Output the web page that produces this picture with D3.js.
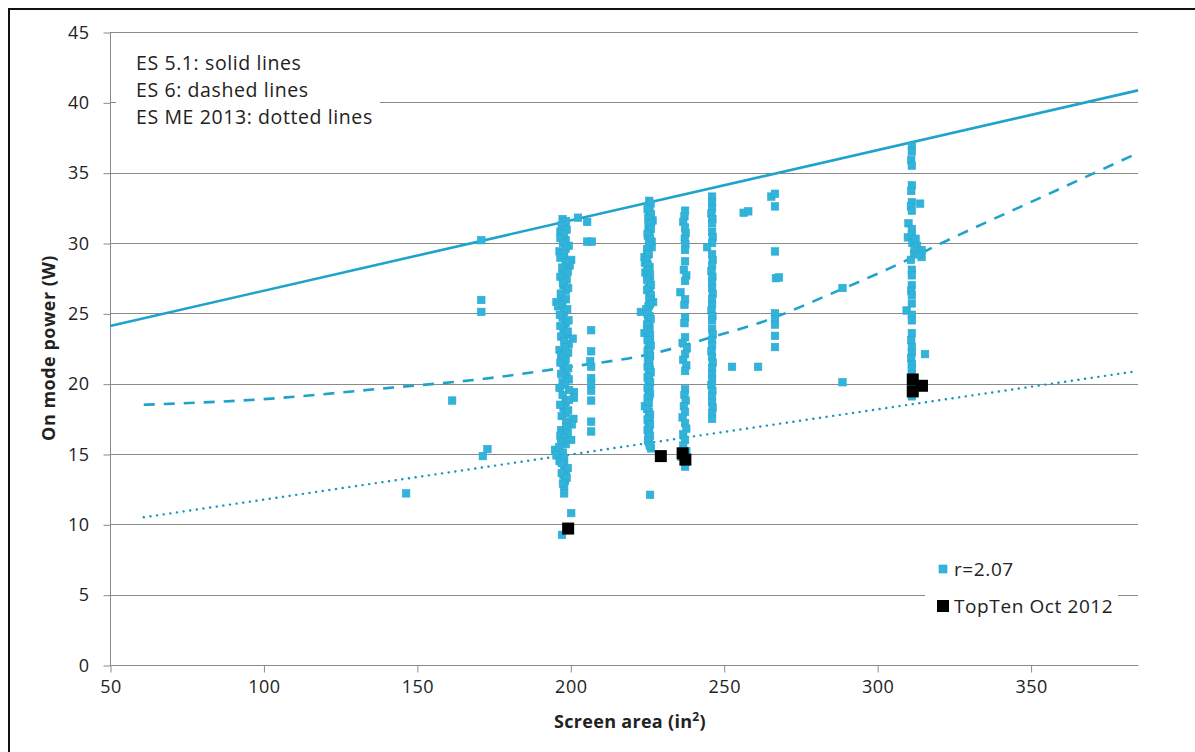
<!DOCTYPE html>
<html>
<head>
<meta charset="utf-8">
<script src="https://cdn.jsdelivr.net/npm/d3@7"></script>
<style>
  html, body { margin: 0; padding: 0; background: #fff; }
  svg { display: block; }
  text { font-family: "Open Sans", "Noto Sans", sans-serif; fill: #222; }
</style>
</head>
<body>
<svg id="chart" width="1195" height="752"></svg>
<script>
// ---------- data ----------
const xTicks = [50, 100, 150, 200, 250, 300, 350];
const yTicks = [0, 5, 10, 15, 20, 25, 30, 35, 40, 45];

// ES 5.1 limit (solid)
const es51Area = [50, 385];
const es51Power = [24.1, 40.85];
// ES 6 limit (dashed)
const es6Area = [61, 100, 141, 170, 200, 226, 246, 264, 284, 304, 324, 354, 384];
const es6Power = [18.5, 18.9, 19.7, 20.3, 21.2, 22.1, 23.3, 24.5, 26.3, 28.2, 30.3, 33.3, 36.3];
// ES ME 2013 limit (dotted)
const esmeArea = [61, 385];
const esmePower = [10.5, 20.9];

// r=2.07 models [screen area, on mode power]
const modelsR207 = [
  // isolated left
  [146.5,12.2],[161.5,18.8],[171,30.2],[171,25.95],[171,25.1],[173,15.35],[171.5,14.85],
  // column ~198
  [197.5,31.7],[198.2,31.4],[197.8,31.1],[196.8,30.8],[197.2,30.5],[198.5,30.2],[199.5,29.8],[196.5,29.4],
  [198,29.1],[200.3,28.8],[199.8,28.4],[198,28.1],[197.5,27.8],[198.8,27.4],[197.8,27.0],[198.5,26.6],
  [197,26.2],[195.5,25.8],[196,25.5],[198,25.1],[197.5,24.7],[198.5,24.3],[197.8,23.9],[198.5,23.5],
  [200.8,23.2],[199.5,22.8],[196.5,22.4],[197,22.0],[198.5,21.7],[197.8,21.3],[198.2,20.9],[198.8,20.5],
  [197.5,20.1],[196.5,19.7],[201.2,19.4],[201.2,19.0],[198.5,18.7],[197.8,18.3],[198.4,17.9],[201,17.5],
  [200.5,17.1],[197,16.7],[196.8,16.3],[200.3,16.0],[198.5,15.7],[195,15.3],[195.5,14.9],[196.5,14.5],
  [198,14.2],[198.6,13.8],[197.8,13.5],[198.3,13.1],[198,12.7],[198,12.2],[200.3,10.8],[197.3,9.25],
  [198.6,31.55],[197.2,31.25],[198.8,30.95],[198,30.65],[196.8,30.35],[197.6,30.0],[198.5,29.6],[197.8,29.25],
  [196.8,28.95],[198.5,28.6],[197.4,28.25],[199.2,27.95],[196.8,27.6],[197.6,27.2],[199.3,26.8],[196.9,26.4],
  [198.6,26.0],[197.4,25.65],[199.0,25.3],[196.6,24.9],[199.4,24.5],[196.8,24.1],[199.2,23.7],[197.0,23.35],
  [198.0,23.0],[198.4,22.6],[199.3,22.2],[197.6,21.85],[196.8,21.5],[199.3,21.1],[197.0,20.7],[199.5,20.3],
  [198.3,19.9],[199.6,19.55],[197.5,19.2],[199.6,18.85],[196.7,18.5],[199.3,18.1],[197.2,17.7],[198.6,17.3],
  [198.8,16.9],[199.2,16.5],[198.0,16.15],[197.0,15.85],[196.4,15.5],[197.6,15.1],[198.0,14.7],[197.2,14.35],
  [199.2,14.0],[197.2,13.65],[198.8,13.3],[197.6,12.9],
  // near 203-207
  [202.5,31.8],[205.5,31.5],[205.5,30.1],[207,30.1],
  [206.8,23.8],[206.8,22.3],[206.5,21.6],[206.8,21.2],[206.8,20.4],[206.8,20.0],[206.8,19.5],
  [206.8,18.8],[206.8,17.3],[206.8,16.6],
  // column ~226
  [225.7,33.0],[225.5,32.6],[225.8,32.2],[226,31.9],[226.8,31.6],[225.5,31.2],[225.8,30.8],[225.3,30.5],
  [226.5,30.1],[226.5,29.7],[225.2,29.4],[224.2,29.0],[224.3,28.6],[225.8,28.3],[224.5,27.9],[225.6,27.6],
  [226,27.2],[225.5,26.8],[225.8,26.5],[226.2,26.1],[227,25.8],[225.5,25.5],[223,25.1],[225.8,24.8],
  [225.4,24.4],[225.8,24.0],[224.2,23.6],[225.5,23.3],[226,22.9],[225.5,22.5],[225.8,22.1],[225.3,21.8],
  [225.7,21.4],[226,21.0],[225.6,20.6],[225.5,20.3],[225.8,19.9],[225.5,19.5],[225.7,19.1],[225.4,18.8],
  [224.3,18.4],[225.6,18.0],[225.8,17.6],[225.5,17.3],[225.7,16.9],[225.6,16.5],[225.5,16.1],[225.7,15.8],
  [226.3,15.4],[226,12.1],
  [226.2,32.8],[225.2,32.4],[226.3,32.05],[225.4,31.75],[226.2,31.4],[226.3,31.0],[225.2,30.65],[226.0,30.3],
  [225.6,29.9],[225.0,29.55],[225.6,29.2],[225.0,28.8],[225.2,28.45],[225.2,28.1],[226.0,27.75],[225.0,27.4],
  [226.3,27.0],[225.0,26.65],[226.2,26.3],[225.8,25.95],[226.0,25.65],[224.8,25.3],[225.2,24.95],[226.2,24.6],
  [225.0,24.2],[225.2,23.8],[226.0,23.45],[225.2,23.1],[226.2,22.7],[225.2,22.3],[226.0,21.95],[225.7,21.6],
  [225.2,21.2],[226.2,20.8],[225.2,20.45],[226.0,20.1],[225.2,19.7],[226.0,19.3],[225.2,18.95],[225.5,18.6],
  [225.0,18.2],[226.0,17.8],[225.2,17.45],[226.0,17.1],[225.2,16.7],[226.0,16.3],[225.3,15.95],[225.9,15.6],
  // column ~237
  [237.4,32.3],[237.2,31.9],[236.8,31.5],[237.4,31.1],[237.6,30.7],[237.3,30.3],[237.5,29.9],[237.4,29.5],
  [237.4,28.7],[237.0,28.1],[237.8,27.7],[237.4,27.3],[235.9,26.5],[237.4,26.0],[237.2,25.6],
  [237.4,24.7],[237.2,24.3],[237.4,23.3],[236.6,22.9],[238.0,22.5],[237.4,22.1],[236.8,21.7],[237.8,21.3],
  [237.4,20.9],[237.4,19.6],[237.2,19.2],[237.6,18.8],[237.0,18.4],[237.4,18.0],[236.6,17.6],[237.4,17.2],
  [237.8,16.8],[236.8,16.4],[237.4,16.0],[236.8,15.6],[237.8,15.2],[236.2,14.8],[237.4,14.4],[237.4,14.1],
  // column ~246
  [246.2,33.3],[246.2,32.9],[246.2,32.5],[246.0,32.1],[246.3,31.7],[246.2,31.4],[246.2,30.8],[246.4,30.4],
  [246.2,30.0],[244.6,29.7],[246.2,29.2],[246.4,28.8],[246.2,28.4],[246.0,28.0],[246.3,27.6],[246.2,27.2],
  [246.2,26.8],[246.4,26.4],[246.2,26.0],[246.2,25.6],[246.0,25.2],[246.3,24.8],[246.2,24.5],[246.2,23.9],
  [246.4,23.5],[246.2,23.1],[246.2,22.7],[246.0,22.3],[246.2,21.9],[246.4,21.5],[246.2,21.1],[246.2,20.7],
  [246.2,20.3],[246.0,19.9],[246.3,19.5],[246.2,19.1],[246.2,18.7],[246.4,18.3],[246.2,17.9],[246.2,17.5],
  // scattered 250-290
  [252.7,21.2],[256.5,32.15],[258,32.25],[261.2,21.2],[265.5,33.3],[266.7,33.5],[266.7,32.6],[266.7,29.4],
  [267,27.5],[268,27.55],[266.7,25.0],[266.7,24.6],[266.7,24.2],[266.7,23.4],[266.7,22.6],
  [288.7,26.8],[288.7,20.1],
  // column ~311
  [311.3,36.9],[311.3,36.5],[311.1,35.9],[311.3,35.5],[311.3,34.1],[311.1,33.7],[311.3,32.9],[311.0,32.6],
  [311.3,32.3],[314,32.8],[310.2,31.4],[311.3,31.0],[310,30.4],[311.3,30.6],[311.5,30.0],[313,29.8],
  [314.5,29.5],[312,29.2],[314.5,29.0],[311,28.8],[311.3,28.1],[311.3,27.7],[311.3,27.0],[311.1,26.6],
  [311.3,26.3],[311.3,25.7],[309.6,25.2],[311.3,24.9],[311.3,24.5],[311.3,23.6],[311.1,23.1],[311.3,22.6],
  [311.3,22.2],[311.1,21.8],[311.3,21.4],[311.3,21.1],[311.3,20.7],[311.3,20.3],[311.3,19.9],[311.3,19.5],
  [311.3,19.1],[315.6,22.1],[312.5,30.3],[313.5,29.2],[312.2,29.6]
];
// TopTen Oct 2012 [screen area, on mode power]
const topTen = [[199.3,9.7],[229.5,14.85],[236.6,15.05],[237.5,14.6],[311.6,20.3],[311.6,19.45],[314.6,19.85]];

const legendLines = ["ES 5.1: solid lines", "ES 6: dashed lines", "ES ME 2013: dotted lines"];
const seriesNames = ["r=2.07", "TopTen Oct 2012"];
const seriesColors = ["#31b3da", "#000000"];
const lineColor = "#1fa3cb";

// ---------- drawing ----------
const svg = d3.select("#chart");
const W = 1195, H = 752;
const x = d3.scaleLinear().domain([50, 385]).range([110, 1138]);
const y = d3.scaleLinear().domain([0, 45]).range([665, 32]);

svg.append("rect").attr("x", 0).attr("y", 0).attr("width", W).attr("height", H).attr("fill", "#fff");
// outer frame
svg.append("rect").attr("x", 9).attr("y", 9).attr("width", 1200).attr("height", 800)
  .attr("fill", "none").attr("stroke", "#111").attr("stroke-width", 2);

const gridColor = "#8a8a8a";
svg.append("g").selectAll("line").data(yTicks).join("line")
  .attr("x1", x(50)).attr("x2", x(385))
  .attr("y1", d => Math.round(y(d)) + 0.5).attr("y2", d => Math.round(y(d)) + 0.5)
  .attr("stroke", gridColor).attr("stroke-width", 1);

// y axis
const yAxis = d3.axisLeft(y).tickValues(yTicks).tickSize(7).tickPadding(14).tickFormat(d3.format("d"));
const gy = svg.append("g").attr("transform", `translate(${Math.round(x(50)) + 0.5},0.5)`).call(yAxis);
gy.select(".domain").attr("stroke", gridColor).attr("d", `M0,${y(45)}V${y(0)}`);
gy.selectAll(".tick line").attr("stroke", gridColor);
gy.selectAll(".tick text").style("font-family", "'Open Sans', sans-serif").style("font-size", "18px")
  .style("letter-spacing", "0.5px").attr("fill", "#222");

// x axis
const xAxis = d3.axisBottom(x).tickValues(xTicks).tickSize(7).tickPadding(8).tickFormat(d3.format("d"));
const gx = svg.append("g").attr("transform", `translate(0.5,${Math.round(y(0)) + 0.5})`).call(xAxis);
gx.select(".domain").attr("stroke", gridColor).attr("d", `M${x(50)},0H${x(385)}`);
gx.selectAll(".tick line").attr("stroke", gridColor);
gx.selectAll(".tick text").style("font-family", "'Open Sans', sans-serif").style("font-size", "18px")
  .style("letter-spacing", "0.5px").attr("fill", "#222");

// legend box top-left
svg.append("rect").attr("x", 116).attr("y", 42).attr("width", 264).attr("height", 92).attr("fill", "#fff");
svg.append("g").selectAll("text").data(legendLines).join("text")
  .attr("x", 136).attr("y", (d, i) => 70 + i * 27)
  .style("font-size", "19.5px").style("letter-spacing", "0.6px").text(d => d);

// limit lines
const line = d3.line().x(d => x(d[0])).y(d => y(d[1]));
svg.append("path").datum(d3.zip(es51Area, es51Power))
  .attr("d", line).attr("fill", "none").attr("stroke", lineColor).attr("stroke-width", 2.6);
svg.append("path").datum(d3.zip(es6Area, es6Power))
  .attr("d", d3.line().x(d => x(d[0])).y(d => y(d[1])).curve(d3.curveMonotoneX))
  .attr("fill", "none").attr("stroke", lineColor)
  .attr("stroke-width", 2.6).attr("stroke-dasharray", "11,9");
svg.append("path").datum(d3.zip(esmeArea, esmePower))
  .attr("d", line).attr("fill", "none").attr("stroke", "#1995bb")
  .attr("stroke-width", 2.4).attr("stroke-linecap", "round").attr("stroke-dasharray", "0.1,6.6");

// markers
const s1 = 7.5;
svg.append("g").selectAll("rect").data(modelsR207).join("rect")
  .attr("x", d => x(d[0]) - s1 / 2).attr("y", d => y(d[1]) - s1 / 2)
  .attr("width", s1).attr("height", s1)
  .attr("fill", seriesColors[0]).attr("stroke", "#2aaad2").attr("stroke-width", 0.6);
const s2 = 12;
svg.append("g").selectAll("rect").data(topTen).join("rect")
  .attr("x", d => x(d[0]) - s2 / 2).attr("y", d => y(d[1]) - s2 / 2)
  .attr("width", s2).attr("height", s2).attr("fill", seriesColors[1]);

// series legend bottom-right
svg.append("rect").attr("x", 925).attr("y", 553).attr("width", 193).attr("height", 72).attr("fill", "#fff");
const lg = svg.append("g");
const lgY = [569, 606];
const lgS = [8, 12];
seriesNames.forEach((n, i) => {
  lg.append("rect").attr("x", 943 - lgS[i] / 2).attr("y", lgY[i] - lgS[i] / 2)
    .attr("width", lgS[i]).attr("height", lgS[i]).attr("fill", seriesColors[i])
    .attr("stroke", i === 0 ? "#2aaad2" : "none").attr("stroke-width", 0.6);
  lg.append("text").attr("x", 954).attr("y", lgY[i] + 7)
    .style("font-size", "19px").style("letter-spacing", "0.6px").text(n);
});

// axis titles
const xt = svg.append("text").attr("x", 630).attr("y", 728).attr("text-anchor", "middle")
  .style("font-size", "18px").style("font-weight", "bold").style("letter-spacing", "0.3px");
xt.append("tspan").text("Screen area (in");
xt.append("tspan").attr("dy", -7).style("font-size", "12px").text("2");
xt.append("tspan").attr("dy", 7).text(")");

svg.append("text").attr("transform", "translate(55,348) rotate(-90)").attr("text-anchor", "middle")
  .style("font-size", "18px").style("font-weight", "bold").style("letter-spacing", "0.5px")
  .text("On mode power (W)");
</script>
</body>
</html>
